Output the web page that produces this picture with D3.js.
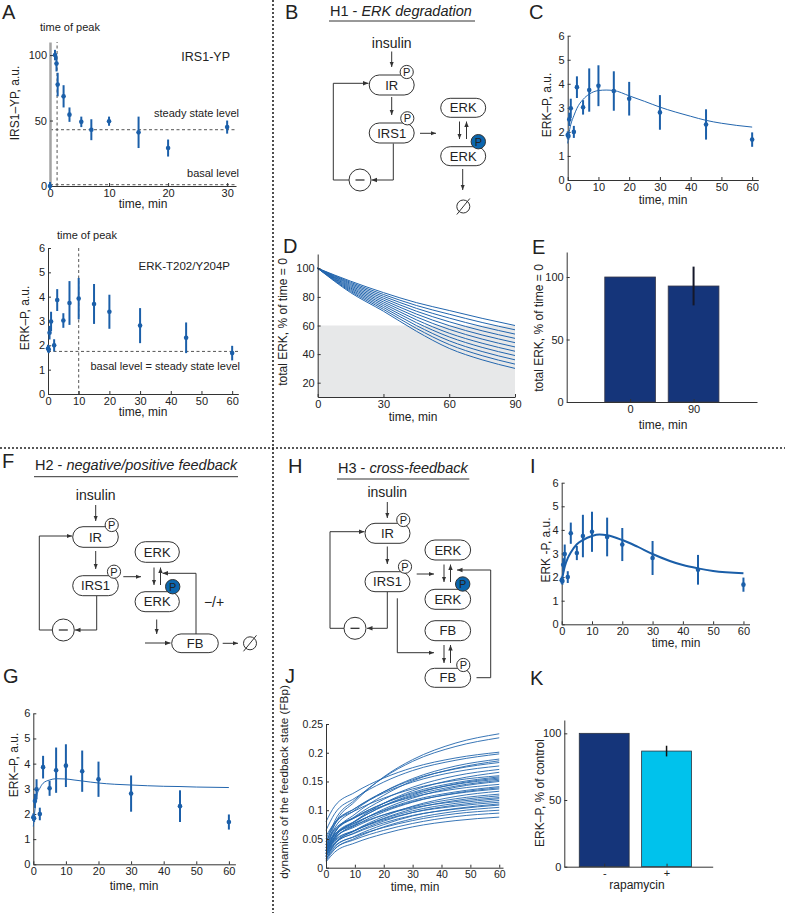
<!DOCTYPE html>
<html><head><meta charset="utf-8">
<script src="https://cdn.jsdelivr.net/npm/d3@7"></script>
<style>body{margin:0;background:#fff} text{font-family:"Liberation Sans",Arial,Helvetica,sans-serif;fill:#222}</style>
</head><body><svg id="fig" width="785" height="913"></svg>
<script>
// ---------------- DATA ----------------
const irsTime  = [0, 0.85, 1.1, 1.3, 2.3, 3.3, 5.3, 7, 10, 15, 20, 30];
const irsValue = [0, 100, 93.5, 77.5, 68.5, 54.5, 49, 43, 49.5, 41, 29, 45];
const irsError = [3, 4, 6, 9, 8.5, 5.5, 4, 8, 3.5, 12, 6.5, 5];
const irsPeakTime = 1.2, irsSteady = 43, irsBasal = 1;

const erkTime  = [0, 0.25, 0.5, 1, 2, 3, 5, 7, 10, 15, 20, 30, 45, 60];
const erkValue = [1.87, 1.83, 2.52, 2.98, 2.0, 3.86, 3.02, 3.74, 3.92, 3.7, 3.38, 2.81, 2.31, 1.68];
const erkError = [0.15, 0.15, 0.28, 0.4, 0.25, 0.45, 0.3, 0.9, 0.85, 0.82, 0.7, 0.72, 0.63, 0.3];
const erkPeakTime = 10, erkBasal = 1.75;

const modelTime = [0, 0.5, 1, 2, 3, 5, 7, 10, 12.5, 15, 20, 25, 30, 40, 45, 50, 60];
const h1Model = [1.52, 2.0, 2.3, 2.67, 2.98, 3.35, 3.57, 3.72, 3.74, 3.72, 3.5, 3.27, 3.03, 2.65, 2.48, 2.36, 2.2];
const h2Model = [1.5, 2.16, 2.69, 3.02, 3.22, 3.35, 3.4, 3.39, 3.35, 3.31, 3.23, 3.18, 3.15, 3.1, 3.09, 3.07, 3.05];
const h3Model = [1.81, 2.16, 2.44, 2.8, 3.04, 3.39, 3.57, 3.74, 3.8, 3.77, 3.57, 3.29, 2.98, 2.51, 2.37, 2.26, 2.16];

const degTime = [0, 15, 30, 45, 60, 75, 90];
const degLines = [
  [100, 91.0, 83.0, 76, 70.5, 65.0, 60],
  [100, 90.2, 81.7, 74, 67.9, 62.1, 57],
  [100, 89.4, 80.4, 72, 65.2, 59.2, 54],
  [100, 88.6, 79.1, 70, 62.6, 56.3, 51],
  [100, 87.8, 77.8, 68, 59.9, 53.4, 48],
  [100, 87.0, 76.5, 66, 57.3, 50.5, 45],
  [100, 86.2, 75.2, 64, 54.6, 47.6, 42],
  [100, 85.4, 73.9, 62, 52.0, 44.7, 39],
  [100, 84.6, 72.6, 60, 49.3, 41.8, 36],
  [100, 83.8, 71.3, 58, 46.7, 38.9, 33],
  [100, 83.0, 70.0, 56, 44.0, 36.0, 30]
];
const degThreshold = 60;

const totalCats = ["0", "90"];
const totalValue = [100, 92.8];
const totalError = [0, 15.5];

const fbTime = [0, 3, 10, 20, 30, 45, 60];
const fbLines = [
  [0.030,0.075,0.115,0.158,0.188,0.217,0.233],
  [0.040,0.081,0.118,0.157,0.185,0.211,0.226],
  [0.080,0.107,0.131,0.156,0.174,0.191,0.201],
  [0.065,0.094,0.121,0.149,0.169,0.187,0.198],
  [0.035,0.069,0.100,0.132,0.155,0.177,0.189],
  [0.025,0.060,0.093,0.126,0.151,0.173,0.186],
  [0.045,0.075,0.103,0.132,0.153,0.172,0.183],
  [0.050,0.078,0.103,0.130,0.149,0.167,0.177],
  [0.030,0.061,0.089,0.119,0.140,0.160,0.171],
  [0.020,0.052,0.081,0.112,0.134,0.154,0.166],
  [0.055,0.078,0.099,0.121,0.137,0.152,0.160],
  [0.035,0.062,0.087,0.112,0.131,0.148,0.158],
  [0.025,0.054,0.080,0.108,0.127,0.146,0.156],
  [0.040,0.065,0.088,0.112,0.129,0.145,0.154],
  [0.030,0.057,0.081,0.107,0.125,0.142,0.152],
  [0.020,0.049,0.075,0.102,0.121,0.140,0.150],
  [0.045,0.067,0.087,0.108,0.123,0.137,0.145],
  [0.030,0.054,0.077,0.100,0.117,0.132,0.141],
  [0.025,0.050,0.073,0.097,0.114,0.130,0.139],
  [0.035,0.057,0.078,0.099,0.115,0.129,0.137],
  [0.015,0.041,0.065,0.089,0.107,0.124,0.133],
  [0.030,0.052,0.071,0.092,0.106,0.120,0.128],
  [0.020,0.043,0.064,0.086,0.102,0.117,0.125],
  [0.040,0.058,0.074,0.092,0.104,0.115,0.122],
  [0.025,0.046,0.065,0.085,0.099,0.112,0.120],
  [0.020,0.041,0.061,0.081,0.096,0.109,0.117],
  [0.030,0.048,0.065,0.083,0.096,0.107,0.114],
  [0.015,0.036,0.055,0.075,0.090,0.103,0.111],
  [0.025,0.043,0.060,0.078,0.091,0.102,0.109],
  [0.012,0.032,0.051,0.071,0.085,0.098,0.105],
  [0.020,0.038,0.054,0.070,0.082,0.094,0.100],
  [0.015,0.033,0.049,0.065,0.077,0.089,0.095],
  [0.010,0.027,0.043,0.059,0.071,0.082,0.088]
];

const rapaCats = ["-", "+"];
const rapaValue = [100, 86.7];
const rapaError = [0, 4];

// ---------------- STYLE ----------------
const BLUE = "#1b5fa9", LINEBLUE = "#2366ae", NAVY = "#15357a", CYAN = "#00c2ec", PBLUE = "#0b66ae", INK = "#333";

const svg = d3.select("#fig");
svg.append("rect").attr("width", 785).attr("height", 913).attr("fill", "#fff");
const defs = svg.append("defs");
defs.append("marker").attr("id", "arr").attr("viewBox", "0 0 8 8").attr("refX", 8).attr("refY", 4)
  .attr("markerWidth", 5.5).attr("markerHeight", 5.5).attr("markerUnits", "userSpaceOnUse").attr("orient", "auto")
  .append("path").attr("d", "M0,0.8 L8,4 L0,7.2 Z").attr("fill", INK);

// ---------------- HELPERS ----------------
function drawAxes(g, x, y, xt, yt, o = {}) {
  const ax = g.append("g").attr("transform", `translate(0,${y.range()[0]})`)
    .call(d3.axisBottom(x).tickValues(xt).tickSizeInner(-3).tickSizeOuter(0).tickPadding(3).tickFormat(o.xfmt || (d => d)));
  const ay = g.append("g").attr("transform", `translate(${x.range()[0]},0)`)
    .call(d3.axisLeft(y).tickValues(yt).tickSizeInner(-3).tickSizeOuter(0).tickPadding(3).tickFormat(o.yfmt || (d => d)));
  [ax, ay].forEach(a => {
    a.attr("font-family", null);
    a.selectAll("text").attr("font-size", o.fs || 11);
    a.select(".domain").attr("stroke", INK);
    a.selectAll(".tick line").attr("stroke", INK);
  });
  if (o.ygray) ay.select(".domain").attr("stroke", "#a3a3a3").attr("stroke-width", 2.5);
  return { ax, ay };
}
function ylabel(txt, cx, cy, fs = 12) {
  svg.append("text").attr("transform", `translate(${cx},${cy}) rotate(-90)`).attr("text-anchor", "middle")
    .attr("dy", "0.35em").attr("font-size", fs).text(txt);
}
function txt(s, x, y, fs = 12, anchor = "middle", style) {
  const t = svg.append("text").attr("x", x).attr("y", y).attr("font-size", fs).attr("text-anchor", anchor).text(s);
  if (style) t.attr("font-style", style);
  return t;
}
function errPlot(g, x, y, t, v, e, color) {
  g.selectAll(null).data(t).enter().append("line")
    .attr("x1", d => x(d)).attr("x2", d => x(d))
    .attr("y1", (d, i) => y(v[i] - e[i])).attr("y2", (d, i) => y(v[i] + e[i]))
    .attr("stroke", color).attr("stroke-width", 2);
  g.selectAll(null).data(t).enter().append("circle")
    .attr("cx", d => x(d)).attr("cy", (d, i) => y(v[i])).attr("r", 2.3).attr("fill", color);
}
function curve(g, x, y, t, v, color, w) {
  g.append("path").datum(t).attr("fill", "none").attr("stroke", color).attr("stroke-width", w)
    .attr("d", d3.line().x(d => x(d)).y((d, i) => y(v[i])).curve(d3.curveMonotoneX));
}
function dashed(g, x1, y1, x2, y2) {
  g.append("line").attr("x1", x1).attr("y1", y1).attr("x2", x2).attr("y2", y2)
    .attr("stroke", "#555").attr("stroke-width", 1).attr("stroke-dasharray", "3,2.5");
}
function letter(s, x, y) { svg.append("text").attr("x", x).attr("y", y).attr("font-size", 20).text(s); }

// diagram helpers
function pill(g, cx, cy, w, h, label) {
  g.append("rect").attr("x", cx - w / 2).attr("y", cy - h / 2).attr("width", w).attr("height", h)
    .attr("rx", h / 2).attr("ry", h / 2).attr("fill", "#fff").attr("stroke", INK).attr("stroke-width", 1);
  g.append("text").attr("x", cx).attr("y", cy).attr("dy", "0.36em").attr("text-anchor", "middle").attr("font-size", 13).text(label);
}
function pCirc(g, cx, cy, blue) {
  const r = blue ? 7.2 : 6.6;
  g.append("circle").attr("cx", cx).attr("cy", cy).attr("r", r).attr("fill", blue ? PBLUE : "#fff").attr("stroke", INK).attr("stroke-width", 1);
  g.append("text").attr("x", cx).attr("y", cy).attr("dy", "0.36em").attr("text-anchor", "middle").attr("font-size", 11).text("P");
}
function arrow(g, pts, head = true) {
  const p = g.append("path").attr("d", d3.line()(pts)).attr("fill", "none").attr("stroke", INK).attr("stroke-width", 1);
  if (head) p.attr("marker-end", "url(#arr)");
}
function minusCirc(g, cx, cy) {
  g.append("circle").attr("cx", cx).attr("cy", cy).attr("r", 11).attr("fill", "#fff").attr("stroke", INK);
  g.append("line").attr("x1", cx - 4.5).attr("x2", cx + 4.5).attr("y1", cy).attr("y2", cy).attr("stroke", "#222").attr("stroke-width", 1.2);
}
function emptySet(g, cx, cy) {
  g.append("circle").attr("cx", cx).attr("cy", cy).attr("r", 6.5).attr("fill", "none").attr("stroke", INK);
  g.append("line").attr("x1", cx - 6.5).attr("y1", cy + 8).attr("x2", cx + 6.5).attr("y2", cy - 8).attr("stroke", INK);
}
function title(g, head, ital, x, y, x2, uy) {
  const t = g.append("text").attr("x", x).attr("y", y).attr("font-size", 14.5);
  t.append("tspan").text(head);
  t.append("tspan").attr("font-style", "italic").text(ital);
  g.append("line").attr("x1", x - 1).attr("x2", x2).attr("y1", uy).attr("y2", uy).attr("stroke", INK).attr("stroke-width", 1);
}

// ---------------- DIVIDERS ----------------
svg.append("line").attr("x1", 273).attr("x2", 273).attr("y1", 0).attr("y2", 913).attr("stroke", "#222").attr("stroke-width", 1.6).attr("stroke-dasharray", "2,2");
svg.append("line").attr("x1", 0).attr("x2", 785).attr("y1", 448).attr("y2", 448).attr("stroke", "#222").attr("stroke-width", 1.6).attr("stroke-dasharray", "2,2");

// ---------------- PANEL A (top) ----------------
{
  const g = svg.append("g");
  const x = d3.scaleLinear().domain([0, 31.5]).range([50, 236]);
  const y = d3.scaleLinear().domain([0, 110]).range([186, 42]);
  dashed(g, x(irsPeakTime), y(0), x(irsPeakTime), y(110));
  dashed(g, x(0), y(irsSteady), x(31.5), y(irsSteady));
  dashed(g, x(0), y(irsBasal), x(31.5), y(irsBasal));
  drawAxes(g, x, y, [0, 10, 20, 30], [0, 50, 100], { ygray: true });
  errPlot(g, x, y, irsTime, irsValue, irsError, BLUE);
  txt("time of peak", 40, 31, 11, "start");
  txt("IRS1-YP", 230, 61, 12.5, "end");
  txt("steady state level", 239, 116.5, 11, "end");
  txt("basal level", 239, 176.5, 11, "end");
  ylabel("IRS1–YP, a.u.", 15, 103);
  txt("time, min", 143, 208, 12);
}
// ---------------- PANEL A (bottom) ----------------
{
  const g = svg.append("g");
  const x = d3.scaleLinear().domain([0, 62]).range([48, 238.3]);
  const y = d3.scaleLinear().domain([0, 6]).range([394, 248]);
  dashed(g, x(erkPeakTime), y(0), x(erkPeakTime), y(6));
  dashed(g, x(0), y(erkBasal), x(62), y(erkBasal));
  drawAxes(g, x, y, [0, 10, 20, 30, 40, 50, 60], [0, 1, 2, 3, 4, 5, 6]);
  errPlot(g, x, y, erkTime, erkValue, erkError, BLUE);
  txt("time of peak", 57, 238.5, 11, "start");
  txt("ERK-T202/Y204P", 230, 270, 11.5, "end");
  txt("basal level = steady state level", 240, 370, 11, "end");
  ylabel("ERK–P, a.u.", 25, 318);
  txt("time, min", 143, 416, 12);
}
// ---------------- PANEL C ----------------
{
  const g = svg.append("g");
  const x = d3.scaleLinear().domain([0, 62]).range([567.7, 758.3]);
  const y = d3.scaleLinear().domain([0, 6]).range([180, 35.7]);
  drawAxes(g, x, y, [0, 10, 20, 30, 40, 50, 60], [0, 1, 2, 3, 4, 5, 6]);
  errPlot(g, x, y, erkTime, erkValue, erkError, BLUE);
  curve(g, x, y, modelTime, h1Model, LINEBLUE, 1);
  ylabel("ERK–P, a.u.", 547, 105);
  txt("time, min", 663, 204, 12);
}
// ---------------- PANEL D ----------------
{
  const g = svg.append("g");
  const x = d3.scaleLinear().domain([0, 90]).range([317.7, 515]);
  const y = d3.scaleLinear().domain([10, 110]).range([397, 254]);
  g.append("rect").attr("x", x(0)).attr("y", y(degThreshold)).attr("width", x(90) - x(0)).attr("height", y(10) - y(degThreshold)).attr("fill", "#e7e8e9");
  degLines.forEach(v => curve(g, x, y, degTime, v, LINEBLUE, 1));
  drawAxes(g, x, y, [0, 30, 60, 90], [20, 40, 60, 80, 100]);
  ylabel("total ERK, % of time = 0", 283, 322);
  txt("time, min", 413, 421, 12);
}
// ---------------- PANEL E ----------------
{
  const g = svg.append("g");
  const x = d3.scaleLinear().domain([0, 3]).range([566.7, 757]);
  const y = d3.scaleLinear().domain([0, 120]).range([402, 252]);
  g.selectAll(null).data(totalValue).enter().append("rect")
    .attr("x", (d, i) => x(i + 1 - 0.4)).attr("width", (d, i) => x(i + 1.4) - x(i + 0.6))
    .attr("y", d => y(d)).attr("height", d => y(0) - y(d)).attr("fill", NAVY).attr("stroke", "#3a3a4a").attr("stroke-width", 0.8);
  totalValue.forEach((v, i) => { if (totalError[i] > 0) g.append("line").attr("x1", x(i + 1)).attr("x2", x(i + 1)).attr("y1", y(v - totalError[i])).attr("y2", y(v + totalError[i])).attr("stroke", "#15182a").attr("stroke-width", 2); });
  drawAxes(g, x, y, [1, 2], [0, 50, 100], { xfmt: (d, i) => totalCats[i] });
  ylabel("total ERK, % of time = 0", 539, 328);
  txt("time, min", 663, 429, 12);
}
// ---------------- PANEL B diagram ----------------
{
  const g = svg.append("g");
  title(g, "H1 - ", "ERK degradation", 330, 15.5, 475, 21);
  txt("insulin", 391.7, 47.5, 14);
  arrow(g, [[391.7, 51.5], [391.7, 67]]);
  pill(g, 391.7, 85, 45, 20, "IR"); pCirc(g, 406.7, 72);
  arrow(g, [[391.7, 97], [391.7, 115]]);
  pill(g, 391.7, 133, 45, 20, "IRS1"); pCirc(g, 407.3, 118.3);
  arrow(g, [[420, 133.3], [436, 133.3]]);
  pill(g, 463.2, 107.8, 45, 19, "ERK");
  pill(g, 463.2, 156.2, 45, 19, "ERK"); pCirc(g, 478.3, 141.7, true);
  arrow(g, [[459.5, 121.5], [459.5, 139]]);
  arrow(g, [[466.5, 139], [466.5, 121.5]]);
  arrow(g, [[462.7, 169], [462.7, 190]]);
  emptySet(g, 463.3, 206.5);
  arrow(g, [[393.3, 143.5], [393.3, 180], [371.5, 180]]);
  minusCirc(g, 360, 180);
  arrow(g, [[349, 180], [333.3, 180], [333.3, 83.3], [368.5, 83.3]]);
}
// ---------------- PANEL F diagram ----------------
{
  const g = svg.append("g");
  title(g, "H2 - ", "negative/positive feedback", 35, 470, 238, 476.7);
  txt("insulin", 95.7, 499.5, 14);
  arrow(g, [[95.7, 505], [95.7, 521]]);
  pill(g, 95.5, 537, 45.6, 20.6, "IR"); pCirc(g, 111.7, 525);
  arrow(g, [[95.7, 551], [95.7, 569]]);
  pill(g, 95.5, 585.7, 45.6, 20, "IRS1"); pCirc(g, 114, 571.7);
  arrow(g, [[123.3, 576.7], [141, 576.7]]);
  pill(g, 157.2, 552, 44.3, 20.6, "ERK");
  pill(g, 157.2, 601.7, 44.3, 20, "ERK"); pCirc(g, 172.7, 586.7, true);
  arrow(g, [[154, 567.5], [154, 585]]);
  arrow(g, [[160.5, 585], [160.5, 567.5]]);
  arrow(g, [[196, 634], [196, 573.3], [162.5, 573.3]]);
  txt("−/+", 214, 607, 14);
  arrow(g, [[156.7, 619.5], [156.7, 634]]);
  arrow(g, [[145, 643], [170.5, 643]]);
  pill(g, 195, 643.3, 46.6, 18.7, "FB");
  arrow(g, [[222.7, 643.3], [238, 643.3]]);
  emptySet(g, 250, 643.3);
  arrow(g, [[96.7, 596], [96.7, 630], [75, 630]]);
  minusCirc(g, 63.3, 630);
  arrow(g, [[52.3, 630], [39.3, 630], [39.3, 536], [72, 536]]);
}
// ---------------- PANEL G ----------------
{
  const g = svg.append("g");
  const x = d3.scaleLinear().domain([0, 62]).range([33.3, 235.4]);
  const y = d3.scaleLinear().domain([0, 6]).range([864.3, 713.3]);
  drawAxes(g, x, y, [0, 10, 20, 30, 40, 50, 60], [0, 1, 2, 3, 4, 5, 6]);
  errPlot(g, x, y, erkTime, erkValue, erkError, BLUE);
  curve(g, x, y, modelTime, h2Model, LINEBLUE, 1);
  ylabel("ERK–P, a.u.", 14, 765);
  txt("time, min", 134, 890, 12);
}
// ---------------- PANEL H diagram ----------------
{
  const g = svg.append("g");
  title(g, "H3 - ", "cross-feedback", 338, 472.7, 469.3, 479);
  txt("insulin", 387.3, 497, 14);
  arrow(g, [[387.3, 502], [387.3, 518]]);
  pill(g, 387.5, 533.3, 45, 20, "IR"); pCirc(g, 403.3, 520);
  arrow(g, [[387.3, 546.5], [387.3, 564]]);
  pill(g, 387.5, 581.7, 45, 20, "IRS1"); pCirc(g, 405, 566.7);
  arrow(g, [[416.7, 574], [434, 574]]);
  pill(g, 447.8, 550, 45.7, 20, "ERK");
  pill(g, 447.8, 599.3, 45.7, 20, "ERK"); pCirc(g, 462.7, 584, true);
  arrow(g, [[444, 564.5], [444, 582]]);
  arrow(g, [[450.5, 582], [450.5, 564.5]]);
  pill(g, 447.8, 630.7, 45.7, 20, "FB");
  pill(g, 447.8, 677.8, 45.7, 19, "FB"); pCirc(g, 463.3, 665);
  arrow(g, [[444, 645], [444, 663]]);
  arrow(g, [[450.5, 663], [450.5, 645]]);
  arrow(g, [[397.3, 598.3], [397.3, 652.7], [434, 652.7]]);
  arrow(g, [[476.5, 677.7], [490.7, 677.7], [490.7, 570], [457, 570]]);
  arrow(g, [[387.3, 592], [387.3, 628.3], [367, 628.3]]);
  minusCirc(g, 355, 628.3);
  arrow(g, [[344, 628.3], [330, 628.3], [330, 531.7], [364.5, 531.7]]);
}
// ---------------- PANEL I ----------------
{
  const g = svg.append("g");
  const x = d3.scaleLinear().domain([0, 62]).range([561.7, 749.5]);
  const y = d3.scaleLinear().domain([0, 6]).range([624.3, 482.7]);
  drawAxes(g, x, y, [0, 10, 20, 30, 40, 50, 60], [0, 1, 2, 3, 4, 5, 6]);
  errPlot(g, x, y, erkTime, erkValue, erkError, BLUE);
  curve(g, x, y, modelTime, h3Model, "#1a5ea8", 2);
  ylabel("ERK -P, a.u.", 546, 550);
  txt("time, min", 676, 647, 12);
}
// ---------------- PANEL J ----------------
{
  const g = svg.append("g");
  const x = d3.scaleLinear().domain([0, 61.3]).range([326, 503]);
  const y = d3.scaleLinear().domain([0, 0.25]).range([867.7, 724]);
  fbLines.forEach(v => curve(g, x, y, fbTime, v, LINEBLUE, 0.9));
  drawAxes(g, x, y, [0, 10, 20, 30, 40, 50, 60], [0, 0.05, 0.1, 0.15, 0.2, 0.25], { fs: 10.5 });
  ylabel("dynamics of the feedback state (FBp)", 284, 782, 11.7);
  txt("time, min", 415, 891, 12);
}
// ---------------- PANEL K ----------------
{
  const g = svg.append("g");
  const x = d3.scaleLinear().domain([0.36, 2.74]).range([564.3, 712.7]);
  const y = d3.scaleLinear().domain([0, 110]).range([866.7, 720]);
  const cols = [NAVY, CYAN];
  g.selectAll(null).data(rapaValue).enter().append("rect")
    .attr("x", (d, i) => x(i + 1 - 0.4)).attr("width", (d, i) => x(i + 1.4) - x(i + 0.6))
    .attr("y", d => y(d)).attr("height", d => y(0) - y(d)).attr("fill", (d, i) => cols[i]).attr("stroke", "#2a3340").attr("stroke-width", 0.8);
  rapaValue.forEach((v, i) => { if (rapaError[i] > 0) g.append("line").attr("x1", x(i + 1)).attr("x2", x(i + 1)).attr("y1", y(v - rapaError[i])).attr("y2", y(v + rapaError[i])).attr("stroke", "#111").attr("stroke-width", 1.5); });
  drawAxes(g, x, y, [1, 2], [0, 50, 100], { xfmt: (d, i) => rapaCats[i] });
  ylabel("ERK–P, % of control", 540, 793);
  txt("rapamycin", 637, 889, 12);
}
// ---------------- LETTERS ----------------
letter("A", 2, 19); letter("B", 285, 19); letter("C", 529, 19); letter("D", 283, 253); letter("E", 532, 254);
letter("F", 2, 468); letter("G", 3, 683); letter("H", 288, 473); letter("I", 530, 473); letter("J", 285, 683); letter("K", 530, 685);
</script></body></html>
